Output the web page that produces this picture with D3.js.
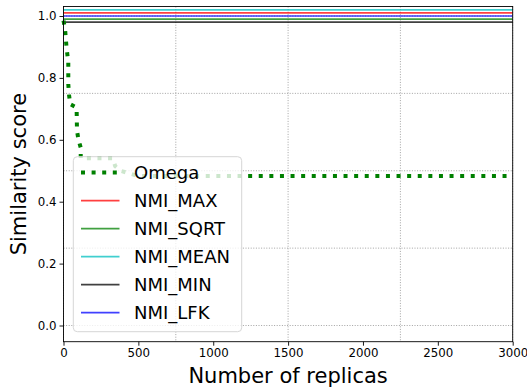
<!DOCTYPE html>
<html><head><meta charset="utf-8">
<script src="https://cdn.jsdelivr.net/npm/d3@7"></script>
<style>body{margin:0;background:#fff}svg{display:block;font-family:"DejaVu Sans",sans-serif}</style>
</head><body><svg id="c" width="527" height="389"></svg>
<script>
// Data
const omegaX = [0, 10, 20, 32, 32, 37, 45, 85, 88, 90, 100, 115, 115, 330, 345, 380, 450, 500, 3000];
const omegaY = [0.985, 0.96, 0.90, 0.85, 0.78, 0.745, 0.715, 0.705, 0.69, 0.63, 0.60, 0.575, 0.54, 0.54, 0.515, 0.50, 0.49, 0.483, 0.483];
const nmiNames = ["NMI_MAX", "NMI_SQRT", "NMI_MEAN", "NMI_MIN", "NMI_LFK"];
const nmiValues = [1.01, 0.99, 1.02, 0.98, 1.0];
const nmiColors = ["#ff0000", "#008000", "#00bfbf", "#000000", "#0000ff"];
const xTicks = [0, 500, 1000, 1500, 2000, 2500, 3000];
const yTicks = [0.0, 0.2, 0.4, 0.6, 0.8, 1.0];
const xGrid = [0, 750, 1500, 2250, 3000];
const yGrid = [0, 0.25, 0.5, 0.75, 1.0];

const svg = d3.select("#c");
const L = 63.5, R = 512.7, T = 6.5, B = 341.7;
const x = d3.scaleLinear().domain([0, 3000]).range([L, R]);
const y = d3.scaleLinear().domain([0, 1]).range([325.5, 16]);

// grid
const g = svg.append("g");
g.selectAll(".vg").data(xGrid).join("line")
  .attr("x1", d => x(d)).attr("x2", d => x(d)).attr("y1", T).attr("y2", B)
  .attr("stroke", "#999").attr("stroke-width", 0.9).attr("stroke-dasharray", "1,1.6");
g.selectAll(".hg").data(yGrid).join("line")
  .attr("x1", L).attr("x2", R).attr("y1", d => y(d)).attr("y2", d => y(d))
  .attr("stroke", "#999").attr("stroke-width", 0.9).attr("stroke-dasharray", "1,1.6");

// NMI lines
const idx = d3.range(nmiNames.length);
svg.append("g").selectAll("line").data(idx).join("line")
  .attr("x1", x(0)).attr("x2", x(3000))
  .attr("y1", i => y(nmiValues[i])).attr("y2", i => y(nmiValues[i]))
  .attr("stroke", i => nmiColors[i]).attr("stroke-opacity", 0.75).attr("stroke-width", 1.7);

// Omega
const pts = omegaX.map((d, i) => [d, omegaY[i]]);
svg.append("path").datum(pts)
  .attr("d", d3.line().x(d => x(d[0])).y(d => y(d[1])))
  .attr("fill", "none").attr("stroke", "#008000").attr("stroke-width", 4)
  .attr("stroke-dasharray", "4,6.6");

// spines
svg.append("rect").attr("x", L).attr("y", T).attr("width", R - L).attr("height", B - T)
  .attr("fill", "none").attr("stroke", "#000").attr("stroke-width", 0.9);

// axes
const xa = svg.append("g").attr("transform", `translate(0,${B})`)
  .call(d3.axisBottom(x).tickValues(xTicks).tickFormat(d3.format("d")).tickSize(4).tickPadding(3));
const ya = svg.append("g").attr("transform", `translate(${L},0)`)
  .call(d3.axisLeft(y).tickValues(yTicks).tickFormat(d3.format(".1f")).tickSize(4).tickPadding(3));
[xa, ya].forEach(a => {
  a.select(".domain").remove();
  a.selectAll("text").attr("font-family", "DejaVu Sans").attr("font-size", 11.8).attr("fill", "#000");
  a.selectAll("line").attr("stroke", "#000").attr("stroke-width", 0.9);
});

svg.append("text").attr("x", (L + R) / 2).attr("y", 383).attr("text-anchor", "middle")
  .attr("font-size", 21).text("Number of replicas");
svg.append("text").attr("transform", `translate(26,${(T + B) / 2}) rotate(-90)`).attr("text-anchor", "middle")
  .attr("font-size", 21).text("Similarity score");

// legend
const lg = svg.append("g");
lg.append("rect").attr("x", 73.3).attr("y", 156.7).attr("width", 168.4).attr("height", 175)
  .attr("rx", 4).attr("fill", "#fff").attr("fill-opacity", 0.8).attr("stroke", "#d6d6d6").attr("stroke-width", 1);
const names = ["Omega"].concat(nmiNames);
const cols = ["#008000"].concat(nmiColors);
names.forEach((n, i) => {
  const yy = 172.6 + i * 28;
  const ln = lg.append("line").attr("x1", 81).attr("x2", 119.5).attr("y1", yy).attr("y2", yy)
    .attr("stroke", cols[i]);
  if (i === 0) ln.attr("stroke-width", 4).attr("stroke-dasharray", "4,6.6");
  else ln.attr("stroke-width", 1.7).attr("stroke-opacity", 0.75);
  lg.append("text").attr("x", 134).attr("y", yy).attr("dy", "0.36em").attr("font-size", 18).text(n);
});
</script></body></html>
